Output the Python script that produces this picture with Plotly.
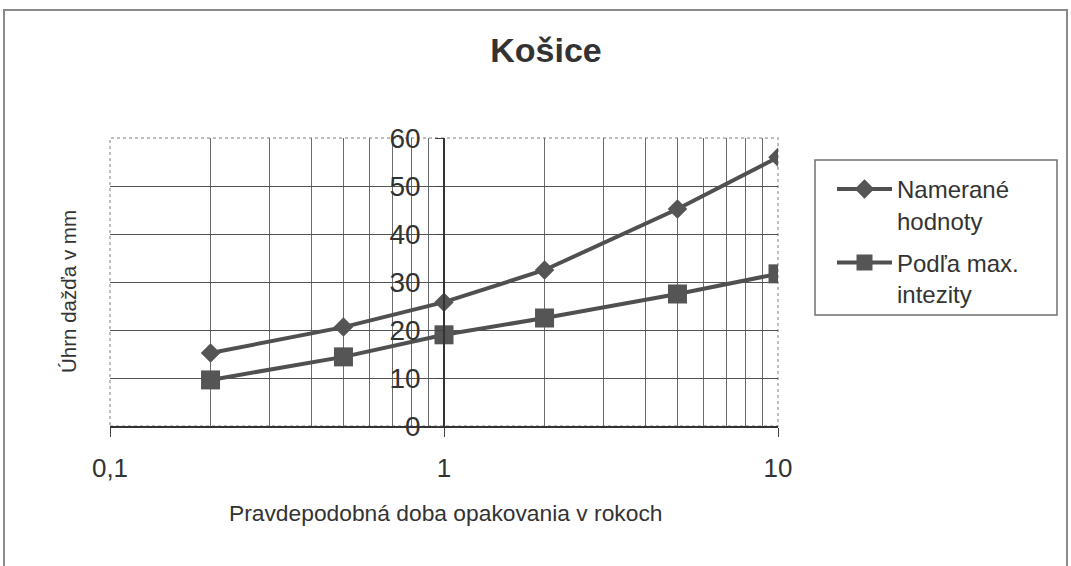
import plotly.graph_objects as go

# Data
return_period = [0.2, 0.5, 1, 2, 5, 10]
measured = [15.2, 20.6, 25.8, 32.5, 45.2, 56.0]
by_max_intensity = [9.6, 14.4, 19.0, 22.5, 27.5, 31.7]

series_names = ["Namerané<br>hodnoty", "Podľa max.<br>intezity"]
x_tick_vals = [0.1, 1, 10]
x_tick_text = ["0,1", "1", "10"]
x_minor_vals = [0.2, 0.3, 0.4, 0.5, 0.6, 0.7, 0.8, 0.9, 2, 3, 4, 5, 6, 7, 8, 9]
y_tick_vals = [0, 10, 20, 30, 40, 50, 60]

W, H = 1071, 566
FONT = "Liberation Sans, Arial, sans-serif"
TXT = "#333333"
LINE_COL = "#505050"
MARK_COL = "#555555"

fig = go.Figure()
fig.add_trace(go.Scatter(
    x=return_period, y=measured, name=series_names[0], mode="lines+markers",
    line=dict(color=LINE_COL, width=4),
    marker=dict(symbol="diamond", size=15, color=MARK_COL, line=dict(width=0)),
    legendgroup="a",
))
fig.add_trace(go.Scatter(
    x=return_period, y=by_max_intensity, name=series_names[1], mode="lines+markers",
    line=dict(color=LINE_COL, width=4),
    marker=dict(symbol="square", size=19, color=MARK_COL, line=dict(width=0)),
    legendgroup="b",
))

x0, x1 = 110 / W, 778 / W
y0, y1 = 1 - 426 / H, 1 - 138 / H

fig.update_layout(
    width=W, height=H,
    margin=dict(l=0, r=0, t=0, b=0, autoexpand=False),
    paper_bgcolor="white", plot_bgcolor="white",
    font=dict(family=FONT, color=TXT),
    showlegend=True,
    legend=dict(
        x=832 / W, y=1 - 167 / H, xanchor="left", yanchor="top",
        bgcolor="rgba(0,0,0,0)", borderwidth=0,
        font=dict(size=24, family=FONT, color=TXT),
        itemwidth=55, tracegroupgap=8, valign="top",
    ),
    xaxis=dict(
        type="log", domain=[x0, x1], range=[-1, 1],
        tickvals=x_tick_vals, ticktext=x_tick_text,
        tickfont=dict(size=26, family=FONT, color=TXT),
        ticks="outside", ticklen=9, tickcolor="#444444",
        ticklabelstandoff=9,
        showgrid=True, gridcolor="#555555", gridwidth=1,
        minor=dict(tickvals=x_minor_vals, showgrid=True, gridcolor="#6a6a6a",
                   gridwidth=1, ticks=""),
        showline=True, linecolor="#333333", linewidth=1.5,
        zeroline=False, anchor="y", automargin=False,
    ),
    yaxis=dict(
        domain=[y0, y1], range=[0, 60],
        tickvals=y_tick_vals,
        tickfont=dict(size=28, family=FONT, color=TXT),
        ticks="outside", ticklen=8, tickcolor="#444444",
        ticklabelstandoff=9,
        showgrid=True, gridcolor="#555555", gridwidth=1,
        showline=True, linecolor="#333333", linewidth=1.5,
        zeroline=False, automargin=False,
        anchor="free", position=444 / W,
    ),
    title=dict(
        text="<b>Košice</b>", x=546 / W, xanchor="center",
        y=1 - 50 / H, yanchor="middle",
        font=dict(size=34, family=FONT, color=TXT),
    ),
    annotations=[
        dict(text="Úhrn dažďa v mm", xref="paper", yref="paper",
             x=68 / W, y=1 - 292 / H, textangle=-90, showarrow=False,
             xanchor="center", yanchor="middle",
             font=dict(size=20.5, family=FONT, color=TXT)),
        dict(text="Pravdepodobná doba opakovania v rokoch", xref="paper", yref="paper",
             x=445 / W, y=1 - 513 / H, showarrow=False,
             xanchor="center", yanchor="middle",
             font=dict(size=22.8, family=FONT, color=TXT)),
    ],
    shapes=[
        dict(type="rect", xref="x domain", yref="y domain", x0=0, x1=1, y0=0, y1=1,
             line=dict(color="#a8a8a8", width=1.5, dash="dot"), layer="below"),
        dict(type="rect", xref="paper", yref="paper", x0=815 / W, x1=1057 / W,
             y0=1 - 315 / H, y1=1 - 160 / H,
             line=dict(color="#707070", width=1.5)),
        dict(type="rect", xref="paper", yref="paper", x0=4 / W, x1=1067 / W,
             y0=-0.01, y1=1 - 10 / H,
             line=dict(color="#8a8a8a", width=2)),
    ],
)

fig.write_html("out.html", config={"displayModeBar": False},
               post_script="document.body.style.margin='0';")
